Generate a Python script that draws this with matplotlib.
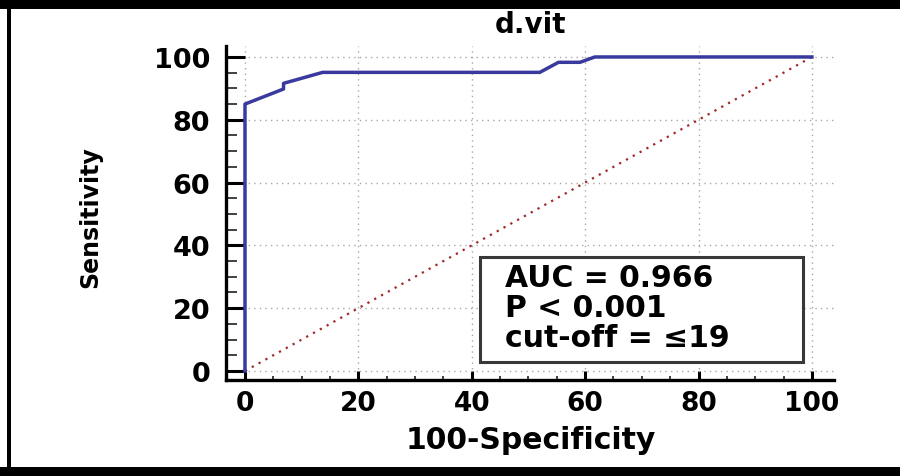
import matplotlib
matplotlib.use("Agg")
import matplotlib.pyplot as plt
from matplotlib.patches import Rectangle
import numpy as np

# ROC points (100-specificity, sensitivity)
fpr = [0, 0, 6.8, 6.8, 13.7, 52.0, 55.3, 59.1, 61.7, 100]
tpr = [0, 85.0, 89.8, 91.6, 95.1, 95.1, 98.3, 98.3, 100, 100]
diag = [0, 100]

title = "d.vit"
auc_text = "AUC = 0.966"
p_text = "P < 0.001"
cut_text = "cut-off = \u226419"
ticks = [0, 20, 40, 60, 80, 100]

plt.rcParams['font.family'] = ['DejaVu Sans']
plt.rcParams['font.weight'] = 'bold'

fig = plt.figure(figsize=(9, 4.77), dpi=100)
ax = fig.add_axes([0.2511, 0.2013, 0.6756, 0.7002])

ax.plot(diag, diag, color='#a02828', lw=1.6, ls=(0, (1, 2.5)), zorder=2)
ax.plot(fpr, tpr, color='#3a3a9e', lw=2.5, zorder=3)

ax.set_xlim(-3.35, 103.9)
ax.set_ylim(-2.87, 103.5)
ax.set_xticks(ticks)
ax.set_yticks(ticks)
ax.set_xticks(np.arange(0, 101, 5), minor=True)
ax.set_yticks(np.arange(0, 101, 5), minor=True)

ax.grid(True, which='major', color='#a8a8a8', lw=1.0, ls=(0, (1, 3)), zorder=0)

for s in ['top', 'right']:
    ax.spines[s].set_visible(False)
for s in ['left', 'bottom']:
    ax.spines[s].set_linewidth(2.4)
    ax.spines[s].set_color('black')

ax.tick_params(axis='y', which='major', direction='in', length=13.7, width=2.2,
               pad=11.5, labelsize=19.5)
ax.tick_params(axis='y', which='minor', direction='in', length=8, width=1.3, color='#333333')
ax.tick_params(axis='x', which='major', direction='in', length=6.5, width=2.2,
               pad=7, labelsize=19)
ax.tick_params(axis='x', which='minor', direction='in', length=3, width=1.3, color='#333333')
for lab in ax.get_xticklabels() + ax.get_yticklabels():
    lab.set_fontweight('bold')

ax.set_xlabel("100-Specificity", fontsize=21.5, fontweight='bold')
ax.set_ylabel("Sensitivity", fontsize=17, fontweight='heavy')
ax.xaxis.set_label_coords(0.502, -0.135)
ax.yaxis.set_label_coords(-0.204, 0.49)
ax.set_title(title, fontsize=20, fontweight='bold', pad=10)

# annotation box
ax.add_patch(Rectangle((41.4, 2.9), 57.0, 33.4, facecolor='white', edgecolor='#383838',
                       lw=2.2, zorder=4))
ax.text(45.9, 27.2, auc_text, fontsize=21.5, fontweight='bold', va='baseline', zorder=5)
ax.text(45.9, 17.6, p_text, fontsize=21.5, fontweight='bold', va='baseline', zorder=5)
ax.text(45.9, 8.1, cut_text, fontsize=21.5, fontweight='bold', va='baseline', zorder=5)

# black frame round the figure (right side is cut off in the original)
W, H = 900.0, 477.0
fig.add_artist(Rectangle((0, 1 - 10 / H), 1, 9 / H, transform=fig.transFigure,
                         facecolor='black', edgecolor='none'))
fig.add_artist(Rectangle((7 / W, 0), 4 / W, 1, transform=fig.transFigure,
                         facecolor='black', edgecolor='none'))
fig.add_artist(Rectangle((0, 0), 1, 9 / H, transform=fig.transFigure,
                         facecolor='black', edgecolor='none'))

fig.savefig("out.png", dpi=100)
